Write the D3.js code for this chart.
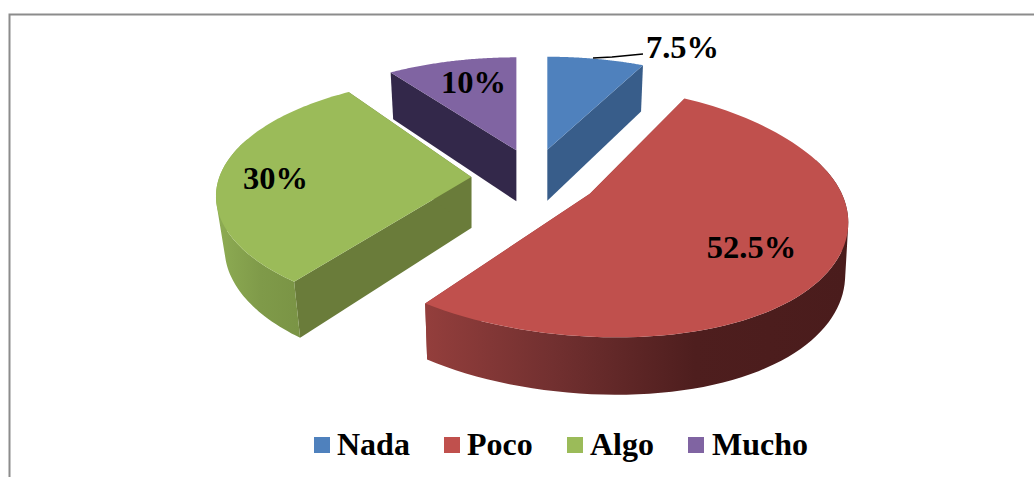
<!DOCTYPE html>
<html><head><meta charset="utf-8">
<script src="https://cdn.jsdelivr.net/npm/d3@7"></script>
<style>html,body{margin:0;padding:0;background:#fff}svg{display:block}</style>
</head><body><svg id="c" width="1034" height="477"></svg>
<script>
const categories = ["Nada","Poco","Algo","Mucho"];
const values = [7.5,52.5,30,10];
const labels = ["7.5%","52.5%","30%","10%"];
const topColors = ["#4f81bd","#c0504d","#9bbb59","#8064a2"];
const wallColors = ["#385d8a","#8c3a38","#6a7c3a","#33284a"];

const W=1034,H=477;
const svg=d3.select("#c");
svg.append("path").attr("d",`M9.5,477V14.5H1034`).attr("fill","none").attr("stroke","#8c8c8c").attr("stroke-width",2);

const arcs=d3.pie().sort(null).value(d=>d)(values);
// projection: slice-local perspective, translated to each exploded apex
const cx=534,cy=177,eS=57,eT=28,S=252,T=113.5,P=0.22,D=51,PD=0.112;
const boost=[1,1.15,1.1,1];
const rimShift=[[0,0],[-1,-2],[3,-7],[0,0]];
const nearTilt=[0,17,0,0], farLift=[0,11,0,0];
const shrink=[0.98,0.988,0.966,0.98];
const w=y=>1/(1+P*y);
function apex(a){const m=(a.startAngle+a.endAngle)/2,i=a.index;
  return [cx+eS*boost[i]*Math.sin(m), cy-eT*boost[i]*Math.cos(m)];}
function pr(a,r,t,down){
  const i=a.index,[ax,ay]=apex(a);
  const x=r*Math.sin(t),y=r*Math.cos(t),k=w(y);
  const yk=Math.max(0,-y*k), up=Math.max(0,y);
  let dx=S*x*k+rimShift[i][0]*r+nearTilt[i]*yk*yk;
  let dy=-T*y*k+rimShift[i][1]*r-farLift[i]*up*up;
  if(down){dx*=shrink[i];dy+=D/(1+PD*y);}
  return [ax+dx,ay+dy];
}
const line=d3.line().curve(d3.curveLinearClosed);
const defs=svg.append("defs");
function rimPts(a,n=90){return d3.range(n+1).map(j=>a.startAngle+(a.endAngle-a.startAngle)*j/n);}

// gradients for outer walls
[["g1",[[0,"#4a1c1c"],[.36,"#4e1e1e"],[.7,"#723030"],[1,"#933e3c"]],845,427],
 ["g2",[[0,"#7a9445"],[.5,"#7f9a49"],[1,"#8caa52"]],300,222]].forEach(([id,st,x1,x2])=>{
  const g=defs.append("linearGradient").attr("id",id).attr("gradientUnits","userSpaceOnUse")
    .attr("x1",x1).attr("x2",x2).attr("y1",0).attr("y2",0);
  st.forEach(s=>g.append("stop").attr("offset",s[0]).attr("stop-color",s[1]));
});
const wallFill=["#385d8a","url(#g1)","url(#g2)","#33284a"];

[3,0,2,1].forEach(i=>{
  const a=arcs[i],g=svg.append("g");
  const ts=rimPts(a);
  // radial walls
  [a.startAngle,a.endAngle].forEach(t=>{
    const pts=[pr(a,0,t,false),pr(a,1,t,false),pr(a,1,t,true),pr(a,0,t,true)];
    g.append("path").attr("d",line(pts)).attr("fill",wallColors[i]);
  });
  // outer wall: one path of same-wound segments, so the side silhouette is covered without seams
  const front=ts.filter(t=>Math.cos(t)<0.3);
  const d=d3.pairs(front).map(([t0,t1])=>{
    const q=[pr(a,1,t0,false),pr(a,1,t1,false),pr(a,1,t1,true),pr(a,1,t0,true)];
    return line(d3.polygonArea(q)<0?q.reverse():q);
  }).join("");
  if(d) g.append("path").attr("d",d).attr("fill",wallFill[i]);
  // top
  const pts=[pr(a,0,0,false)].concat(ts.map(t=>pr(a,1,t,false)));
  g.append("path").attr("d",line(pts)).attr("fill",topColors[i]);
});

// data labels
const labelPos=[[682.5,58],[751.5,258],[275.5,189],[473.5,93]];
svg.append("path").attr("d","M593,58L612,57L643,54").attr("fill","none").attr("stroke","#000").attr("stroke-width",1.5);
svg.selectAll("text.l").data(labels).join("text").attr("class","l")
  .attr("x",(d,i)=>labelPos[i][0]).attr("y",(d,i)=>labelPos[i][1])
  .attr("text-anchor","middle").attr("font-family","'Liberation Serif'").attr("font-weight","700")
  .attr("font-size",32.5).attr("fill","#000").text(d=>d);

// legend
const legX=[314,444,567,688], txtX=[337,467,590,712];
categories.forEach((c,i)=>{
  svg.append("rect").attr("x",legX[i]).attr("y",437).attr("width",16).attr("height",16).attr("fill",topColors[i]);
  svg.append("text").attr("x",txtX[i]).attr("y",455).attr("font-family","'Liberation Serif'")
    .attr("font-weight","700").attr("font-size",32).attr("fill","#000").text(c);
});
</script></body></html>
